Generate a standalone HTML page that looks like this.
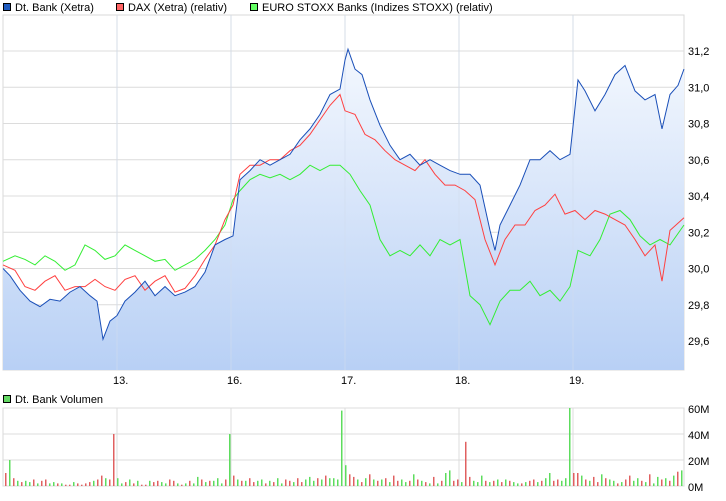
<!DOCTYPE html>
<html><head><meta charset="utf-8"><style>
body{margin:0;background:#fff;font-family:"Liberation Sans",sans-serif;}
svg text{font-family:"Liberation Sans",sans-serif;font-size:11px;fill:#000;}
</style></head><body>
<svg id="c" width="726" height="496" xmlns="http://www.w3.org/2000/svg">
<defs><linearGradient id="g" x1="0" y1="0" x2="0" y2="1"><stop offset="0" stop-color="#f4f8fe"/><stop offset="1" stop-color="#b8d0f5"/></linearGradient></defs>
<g>
<rect x="3.5" y="3.5" width="7" height="7" fill="#1f5bbf" stroke="#000"/><text x="15" y="11">Dt. Bank (Xetra)</text>
<rect x="116.5" y="3.5" width="7" height="7" fill="#ff6464" stroke="#000"/><text x="128" y="11">DAX (Xetra) (relativ)</text>
<rect x="250.5" y="3.5" width="7" height="7" fill="#64ff64" stroke="#000"/><text x="262" y="11">EURO STOXX Banks (Indizes STOXX) (relativ)</text>
<rect x="3.5" y="395.5" width="7" height="7" fill="#64d864" stroke="#000"/><text x="15" y="403">Dt. Bank Volumen</text>
</g>
<g id="grid"></g><g id="plot"></g>
</svg>
<script>
const dayLabels=["13.","16.","17.","18.","19."];
const dayX=[117,231,345,459,573];
const yTicks=[29.6,29.8,30.0,30.2,30.4,30.6,30.8,31.0,31.2];
const volTicks=["0M","20M","40M","60M"];
const blueX=[3,10,20,30,40,50,60,70,80,90,97,103,110,117,125,135,145,155,165,175,185,195,205,215,225,233,240,250,260,270,280,290,300,310,320,330,340,345,348,355,362,370,380,390,400,410,420,430,440,450,460,470,480,490,495,500,510,520,530,540,550,560,570,578,585,595,605,615,625,635,645,655,662,670,678,684];
const blueY=[30.00,29.96,29.88,29.82,29.79,29.83,29.82,29.87,29.90,29.85,29.82,29.61,29.71,29.74,29.82,29.87,29.93,29.85,29.90,29.85,29.87,29.90,29.98,30.13,30.16,30.18,30.49,30.54,30.60,30.57,30.60,30.63,30.71,30.77,30.85,30.96,30.99,31.15,31.21,31.10,31.07,30.93,30.79,30.68,30.60,30.63,30.57,30.60,30.57,30.54,30.52,30.52,30.46,30.21,30.10,30.24,30.35,30.46,30.60,30.60,30.65,30.60,30.63,31.04,30.98,30.87,30.96,31.07,31.12,30.98,30.93,30.96,30.77,30.96,31.01,31.10];
const redX=[3,15,25,35,45,55,65,75,85,95,105,115,125,135,145,155,165,175,185,195,205,215,225,233,240,250,260,270,280,290,300,310,320,330,340,345,355,365,375,385,395,405,415,425,435,445,455,465,475,485,495,505,515,525,535,545,555,565,575,585,595,605,615,625,635,645,655,662,670,684];
const redY=[30.02,29.99,29.90,29.88,29.93,29.96,29.88,29.90,29.90,29.94,29.90,29.88,29.94,29.96,29.88,29.93,29.96,29.87,29.89,29.96,30.05,30.13,30.27,30.35,30.52,30.57,30.57,30.60,30.60,30.65,30.68,30.74,30.82,30.90,30.96,30.87,30.85,30.74,30.71,30.65,30.60,30.57,30.54,30.60,30.52,30.46,30.46,30.43,30.38,30.16,30.02,30.16,30.24,30.24,30.32,30.35,30.41,30.30,30.32,30.27,30.32,30.30,30.27,30.24,30.16,30.07,30.13,29.93,30.21,30.28];
const greenX=[3,15,25,35,45,55,65,75,85,95,105,115,125,135,145,155,165,175,185,195,205,215,225,233,240,250,260,270,280,290,300,310,320,330,340,350,360,370,380,390,400,410,420,430,440,450,460,470,480,490,500,510,520,530,540,550,560,570,578,590,600,610,620,630,640,650,660,670,684];
const greenY=[30.04,30.07,30.05,30.02,30.07,30.04,29.99,30.02,30.13,30.10,30.05,30.07,30.13,30.10,30.07,30.04,30.05,29.99,30.02,30.05,30.10,30.16,30.24,30.38,30.43,30.49,30.52,30.50,30.52,30.49,30.52,30.57,30.54,30.57,30.57,30.52,30.43,30.35,30.16,30.07,30.10,30.07,30.13,30.07,30.16,30.13,30.16,29.85,29.80,29.69,29.82,29.88,29.88,29.93,29.85,29.88,29.82,29.90,30.10,30.07,30.16,30.30,30.32,30.27,30.18,30.13,30.16,30.13,30.24];
const volValues=[10,20,6,4,3,4,3,5,2,4,5,2,3,2,2,1,1,3,2,1,2,3,4,5,8,6,5,40,6,2,3,5,2,4,1,1,4,3,4,3,2,5,4,2,1,2,4,2,7,5,3,4,4,6,2,5,40,8,5,4,4,6,3,4,5,2,4,3,6,2,5,4,3,6,3,5,7,4,6,5,8,6,6,5,58,16,9,7,5,3,6,9,5,4,5,6,3,8,4,5,3,4,9,5,4,3,2,7,2,4,10,12,4,5,3,34,7,4,3,8,4,3,4,5,3,5,4,3,2,2,3,4,5,3,4,6,10,4,5,4,6,60,10,10,8,5,4,7,3,9,6,5,4,2,3,5,8,4,6,4,3,9,2,7,5,6,4,8,11,12];
const volColors="rgrgrggrgrrggrgrrgrrrrgrrgrrggrgrgrrgrrggrrgrgrggrgrgggrgrgrgrrggrgrggrrgrrgggrgrgggggrrgrgrgrgrgrrggrgrgrgrgrggrrgrrgggrgrgrgrggrgrrgrggrrgggrrgrgrrgrggrgrrggrgrggrgrgrgg";
const NS="http://www.w3.org/2000/svg";
const grid=document.getElementById('grid'),plot=document.getElementById('plot');
const L=3,R=684,T=15,B=370,VT=408,VB=486;
const y=v=>268.5-(v-30)*906.25/5;
const vy=v=>VB-v*(VB-VT)/60;
function el(t,a,p){const e=document.createElementNS(NS,t);for(const k in a)e.setAttribute(k,a[k]);p.appendChild(e);return e;}
let e;
e=el('rect',{x:L,y:T,width:R-L,height:B-T,fill:'#fff',stroke:'#d8d8d8'},grid);


yTicks.forEach(v=>{e=el('line',{x1:L,x2:R,y1:y(v),y2:y(v),stroke:'#dcdcdc'},grid);


e=el('text',{x:R+4,y:y(v)+4},grid);e.textContent=v.toFixed(1).replace('.',',');

});
dayX.forEach((x,i)=>{e=el('line',{x1:x,x2:x,y1:T,y2:B,stroke:'#dcdcdc'},grid);


el('line',{x1:x,x2:x,y1:VT,y2:VB,stroke:'#dcdcdc'},grid);
e=el('text',{x:x-4,y:384},grid);e.textContent=dayLabels[i];

});
e=el('rect',{x:L,y:VT,width:R-L,height:VB-VT,fill:'none',stroke:'#d8d8d8'},grid);


volTicks.forEach((t,i)=>{const yy=vy(i*20);el('line',{x1:L,x2:R,y1:yy,y2:yy,stroke:'#dcdcdc'},grid);
e=el('text',{x:R+4,y:yy+5},grid);e.textContent=t;

});
let d='M'+blueX[0]+','+B;blueX.forEach((x,i)=>d+='L'+x+','+y(blueY[i]).toFixed(1));d+='L'+blueX[blueX.length-1]+','+B+'Z';
e=el('path',{d:d,fill:'url(#g)'},plot);


dayX.forEach(x=>el('line',{x1:x,x2:x,y1:T,y2:B,stroke:'#d0dcee','stroke-opacity':0.6},plot));
function line(xs,ys,c,n){let p='';xs.forEach((x,i)=>p+=(i?'L':'M')+x+','+y(ys[i]).toFixed(1));
const l=el('path',{d:p,fill:'none',stroke:c,'stroke-width':1},plot);

}
line(greenX,greenY,'#33ee33','euro-stoxx-banks-line');
line(redX,redY,'#ff4040','dax-line');
line(blueX,blueY,'#1a4fb8','dt-bank-line');
volValues.forEach((v,i)=>{const x=L+2+i*4;
const b=el('rect',{x:x,y:vy(v),width:1.5,height:VB-vy(v),fill:volColors[i]==='g'?'#5ddc5d':'#e06060'},plot);

});
</script>
</body></html>
